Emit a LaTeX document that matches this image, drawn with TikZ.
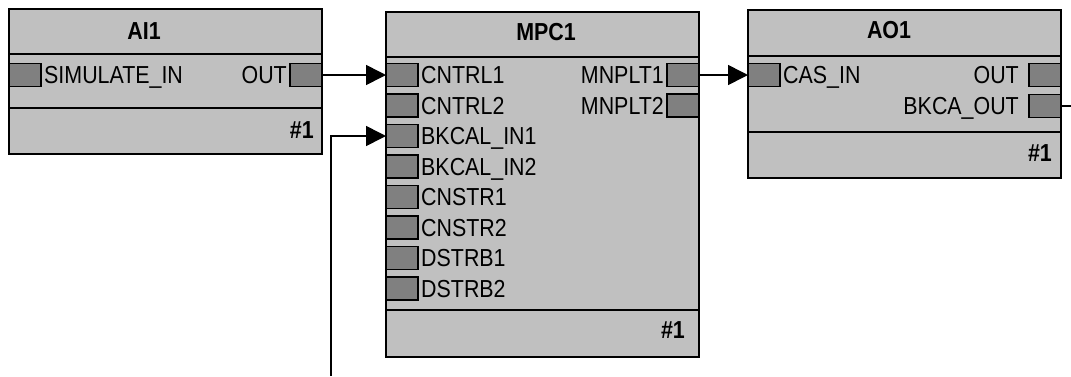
\documentclass[tikz,border=0pt]{standalone}
\usepackage{fontspec}
\setmainfont[FakeStretch=0.87]{Liberation Sans}
\usetikzlibrary{arrows.meta,positioning}

\definecolor{blockgray}{RGB}{192,192,192}
\definecolor{portgray}{RGB}{128,128,128}

\begin{document}
\begin{tikzpicture}[x=1pt,y=-1pt,>={Triangle[length=20pt,width=20pt]},
	every node/.style={font=\fontsize{24.6}{27}\selectfont}]
	\tikzset{block/.style={draw,fill=blockgray,line width=1.6pt,anchor=north west,inner sep=0,outer sep=0,minimum width=313pt}}
	\tikzset{port/.style={draw,fill=portgray,line width=1.3pt,inner sep=0,outer sep=0,minimum width=32pt,minimum height=23pt}}
	\tikzset{title/.style={font=\fontsize{24.6}{27}\selectfont\bfseries,inner sep=0,text height=17.6pt,text depth=0pt}}
	\tikzset{plabel/.style={inner sep=0,text height=17.6pt,text depth=0pt}}
	\tikzset{wire/.style={line width=1.6pt}}
	\useasboundingbox (0,0) rectangle (1071,376);
	
	% AI1
	\node[block,minimum height=145pt] (ai) at (9,9) {};
	\draw[wire] (9,54) -- (322,54);
	\draw[wire] (9,108) -- (322,108);
	\node[title] (aititle) at (144,31) {AI1};
	\node[port] (aisim) at (25,75) {};
	\node[plabel,right=3pt of aisim] (aisimtxt) {SIMULATE\_IN};
	\node[port] (aiout) at (306,75) {};
	\node[plabel,left=3pt of aiout] (aiouttxt) {OUT};
	\node[title,anchor=east] (ainum) at (314,130) {\#1};
	
	% MPC1
	\node[block,minimum height=345pt] (mpc) at (386,12) {};
	\draw[wire] (386,57) -- (699,57);
	\draw[wire] (386,310) -- (699,310);
	\node[title] (mpctitle) at (546,32) {MPC1};
	\node[port] (mpcc1) at (402,75) {};
	\node[plabel,right=3pt of mpcc1] (mpcc1txt) {CNTRL1};
	\node[port] (mpcc2) at (402,105.5) {};
	\node[plabel,right=3pt of mpcc2] (mpcc2txt) {CNTRL2};
	\node[port] (mpcb1) at (402,136) {};
	\node[plabel,right=3pt of mpcb1] (mpcb1txt) {BKCAL\_IN1};
	\node[port] (mpcb2) at (402,166.5) {};
	\node[plabel,right=3pt of mpcb2] (mpcb2txt) {BKCAL\_IN2};
	\node[port] (mpcs1) at (402,197) {};
	\node[plabel,right=3pt of mpcs1] (mpcs1txt) {CNSTR1};
	\node[port] (mpcs2) at (402,227.5) {};
	\node[plabel,right=3pt of mpcs2] (mpcs2txt) {CNSTR2};
	\node[port] (mpcd1) at (402,258) {};
	\node[plabel,right=3pt of mpcd1] (mpcd1txt) {DSTRB1};
	\node[port] (mpcd2) at (402,288.5) {};
	\node[plabel,right=3pt of mpcd2] (mpcd2txt) {DSTRB2};
	\node[port] (mpcm1) at (683,75) {};
	\node[plabel,left=3pt of mpcm1] (mpcm1txt) {MNPLT1};
	\node[port] (mpcm2) at (683,105.5) {};
	\node[plabel,left=3pt of mpcm2] (mpcm2txt) {MNPLT2};
	\node[title,anchor=east] (mpcnum) at (685,330) {\#1};
	
	% AO1
	\node[block,minimum height=168pt] (ao) at (748,10) {};
	\draw[wire] (748,56) -- (1061,56);
	\draw[wire] (748,132) -- (1061,132);
	\node[title] (aotitle) at (889,30) {AO1};
	\node[port] (aocas) at (764,75) {};
	\node[plabel,right=3pt of aocas] (aocastxt) {CAS\_IN};
	\node[port] (aoout) at (1045,75) {};
	\node[plabel,left=10pt of aoout] (aoouttxt) {OUT};
	\node[port] (aobk) at (1045,106) {};
	\node[plabel,left=10pt of aobk] (aobktxt) {BKCA\_OUT};
	\node[title,anchor=east] (aonum) at (1052,153) {\#1};
	
	% links
	\coordinate (fbright) at (1071,106);
	\coordinate (fbbottom) at (331,376);
	\draw[wire,->] (aiout.east) -- (mpcc1.west);
	\draw[wire,->] (mpcm1.east) -- (aocas.west);
	\draw[wire] (aobk.east) -- (fbright);
	\draw[wire,->] (fbbottom) |- (mpcb1.west);
\end{tikzpicture}
\end{document}
